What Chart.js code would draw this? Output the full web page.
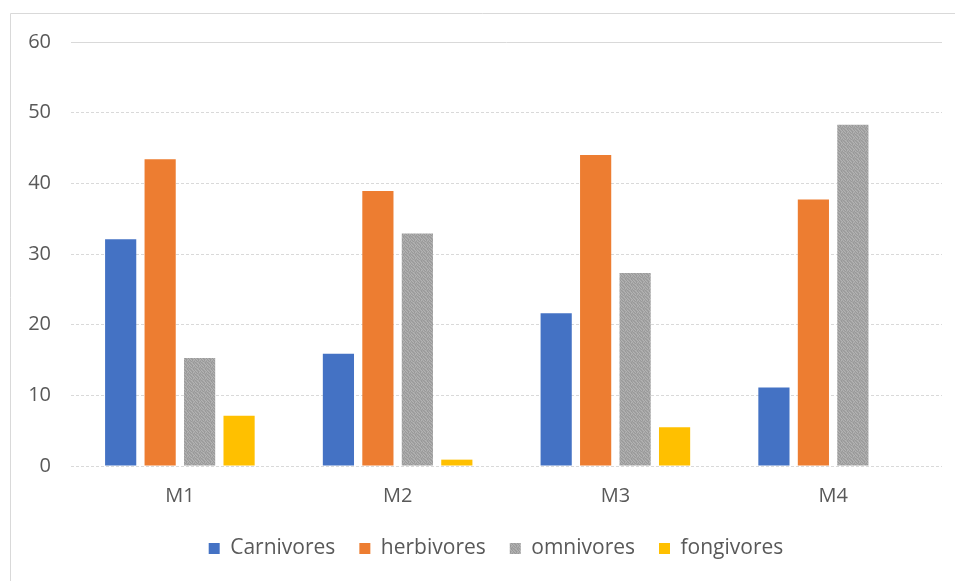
<!DOCTYPE html>
<html>
<head>
<meta charset="utf-8">
<script src="https://cdn.jsdelivr.net/npm/chart.js@4"></script>
<style>
  html, body { margin: 0; padding: 0; background: #ffffff; }
  #wrap { width: 955px; height: 581px; position: relative; }
</style>
</head>
<body>
<div id="wrap"><canvas id="chart" width="955" height="581"></canvas></div>
<script>
// Categories and series
const categories = ['M1', 'M2', 'M3', 'M4'];
const carnivores = [32.1, 15.9, 21.6, 11.1];
const herbivores = [43.4, 38.9, 44.0, 37.7];
const omnivores  = [15.3, 32.9, 27.3, 48.3];
const fongivores = [7.1, 0.9, 5.5, 0];
const yTicks = [0, 10, 20, 30, 40, 50, 60];

const textColor = '#595959';
const fontFamily = '"Open Sans", "Noto Sans", "DejaVu Sans", sans-serif';

// Speckled grey texture for the omnivores bars
function makeSpeckle() {
  const c = document.createElement('canvas');
  c.width = 6; c.height = 6;
  const g = c.getContext('2d');
  g.fillStyle = '#a6a6a6';
  g.fillRect(0, 0, 6, 6);
  g.fillStyle = '#999999';
  [[0,0],[2,1],[4,0],[1,3],[3,2],[5,4],[0,5],[2,4],[4,3],[5,1],[3,5],[1,2]].forEach(([x, y]) => g.fillRect(x, y, 1, 1));
  g.fillStyle = '#b3b3b3';
  [[1,0],[3,1],[5,2],[0,3],[2,5],[4,5],[1,4],[3,4],[5,0]].forEach(([x, y]) => g.fillRect(x, y, 1, 1));
  return g.createPattern(c, 'repeat');
}
const speckle = makeSpeckle();

// Light frame on the left and top edges of the canvas
const framePlugin = {
  id: 'frame',
  beforeDraw(chart) {
    const ctx = chart.ctx;
    ctx.save();
    ctx.strokeStyle = '#d9d9d9';
    ctx.lineWidth = 1;
    ctx.beginPath();
    ctx.moveTo(10.5, 581);
    ctx.lineTo(10.5, 13.5);
    ctx.lineTo(955, 13.5);
    ctx.stroke();
    ctx.restore();
  }
};

// The legend row sits a little right of the canvas centre
const legendShift = {
  id: 'legendShift',
  afterLayout(chart) {
    if (chart.legend) {
      chart.legend.left += 25;
      chart.legend.right += 25;
    }
  }
};

new Chart(document.getElementById('chart'), {
  type: 'bar',
  data: {
    labels: categories,
    datasets: [
      { label: 'Carnivores', data: carnivores, backgroundColor: '#4472C4' },
      { label: 'herbivores', data: herbivores, backgroundColor: '#ED7D31' },
      { label: 'omnivores',  data: omnivores,  backgroundColor: speckle },
      { label: 'fongivores', data: fongivores, backgroundColor: '#FFC000' }
    ]
  },
  options: {
    responsive: false,
    animation: false,
    devicePixelRatio: 1,
    layout: { padding: { left: 0, right: 13, top: 42, bottom: 12 } },
    datasets: { bar: { categoryPercentage: 0.725, barPercentage: 0.79 } },
    scales: {
      x: {
        grid: { display: false, drawTicks: false },
        border: { display: false },
        ticks: { color: textColor, font: { family: fontFamily, size: 20 }, padding: 18 },
        afterFit(scale) { scale.height = 48; }
      },
      y: {
        min: 0,
        max: 60,
        afterBuildTicks(scale) { scale.ticks = yTicks.map(v => ({ value: v })); },
        grid: { color: '#d9d9d9', lineWidth: 1, drawTicks: false },
        border: { display: false, dash: (ctx) => (ctx.tick && ctx.tick.value === 60 ? [] : [3, 2]) },
        ticks: { color: textColor, font: { family: fontFamily, size: 20 }, padding: 20 },
        afterFit(scale) { scale.width = 71; }
      }
    },
    plugins: {
      legend: {
        position: 'bottom',
        labels: {
          color: textColor,
          font: { family: fontFamily, size: 21 },
          boxWidth: 11,
          boxHeight: 11,
          padding: 24
        }
      },
      tooltip: { enabled: false }
    }
  },
  plugins: [framePlugin, legendShift]
});
</script>
</body>
</html>
